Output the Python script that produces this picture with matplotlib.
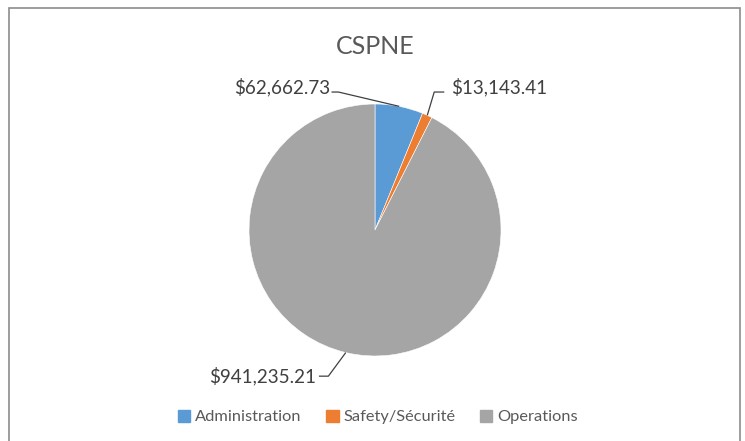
import matplotlib
matplotlib.use("Agg")
import matplotlib.pyplot as plt
from matplotlib.patches import Rectangle
import numpy as np

plt.rcParams['font.family'] = ['Lato', 'DejaVu Sans']

title = "CSPNE"
categories = ["Administration", "Safety/Sécurité", "Operations"]
values = [62662.73, 13143.41, 941235.21]
labels = ["$62,662.73", "$13,143.41", "$941,235.21"]
colors = ["#5B9BD5", "#ED7D31", "#A5A5A5"]

W, H = 745, 441
fig = plt.figure(figsize=(W / 100, H / 100), dpi=100)

# chart border
fig.patches.append(Rectangle((9 / W, -0.01), (740 - 9) / W, (H - 8) / H + 0.01,
                             transform=fig.transFigure, fill=False,
                             edgecolor="#8C8C8C", linewidth=1.2))

cx, cy, r = 375, 230, 126
ax = fig.add_axes([(cx - r) / W, (H - cy - r) / H, 2 * r / W, 2 * r / H])
wedges, _ = ax.pie(values, colors=colors, startangle=90, counterclock=False,
                   radius=1.0, wedgeprops=dict(edgecolor="white", linewidth=0.4))
ax.set_xlim(-1, 1)
ax.set_ylim(-1, 1)
ax.set_aspect("equal")
ax.axis("off")

fig.text(cx / W, 1 - 46 / H, title, ha="center", va="center",
         fontsize=18, color="#595959")

# label layout (positions in data units of the pie axes)
label_pos = [(-0.355, 1.135, "right"), (0.60, 1.135, "left"), (-0.47, -1.16, "right")]
elbow = [(-0.29, 1.095), (0.47, 1.095), (-0.37, -1.16)]
ends = [(-0.345, 1.095), (0.55, 1.095), (-0.445, -1.16)]

total = sum(values)
cum = 0
for i, v in enumerate(values):
    mid = 90 - 360 * (cum + v / 2) / total
    cum += v
    px, py = np.cos(np.radians(mid)), np.sin(np.radians(mid))
    ex, ey = elbow[i]
    hx, hy = ends[i]
    ax.plot([px, ex, hx], [py, ey, hy], color="#404040", lw=0.9,
            clip_on=False, solid_capstyle="butt")
    tx, ty, ha = label_pos[i]
    ax.text(tx, ty, labels[i], ha=ha, va="center", fontsize=13.6,
            color="#404040", clip_on=False)

handles = [Rectangle((0, 0), 1, 1, color=c) for c in colors]
fig.legend(handles, categories, loc="center", bbox_to_anchor=(378 / W, 1 - 417 / H),
           ncol=3, frameon=False, fontsize=11.8, labelcolor="#595959",
           handlelength=0.75, handleheight=0.75, handletextpad=0.3, columnspacing=1.5)

fig.savefig("out.png", dpi=100, facecolor="white")
